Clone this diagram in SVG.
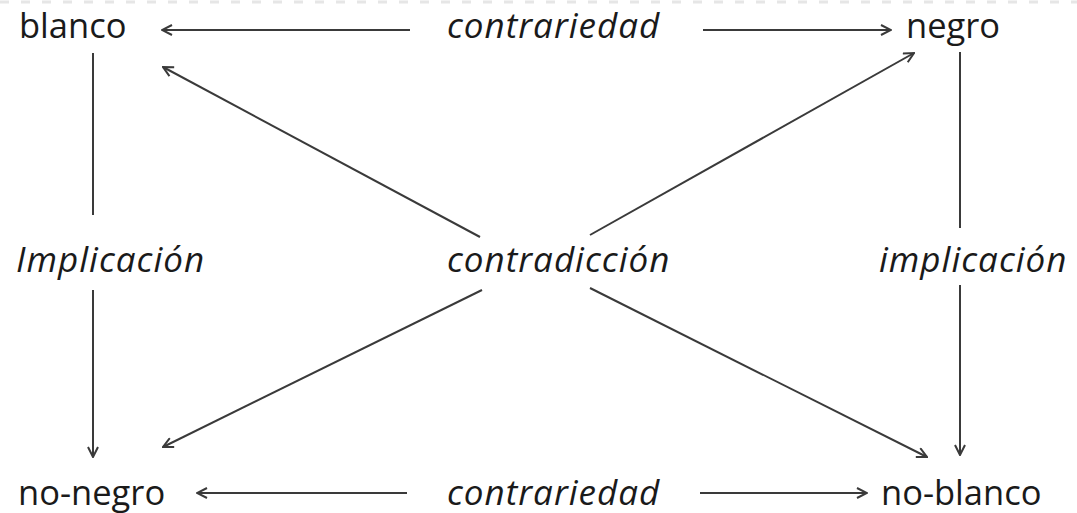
<svg xmlns="http://www.w3.org/2000/svg" width="1077" height="513" viewBox="0 0 1077 513">
<defs>
<marker id="ah" viewBox="0 0 12 12" refX="11" refY="6" markerWidth="12" markerHeight="12" markerUnits="userSpaceOnUse" orient="auto">
<path d="M1,1 L11,6 L1,11" fill="none" stroke="#3a3a3a" stroke-width="2"/>
</marker>
<style>
.lbl{font-family:"Open Sans","Noto Sans",sans-serif;font-size:34.5px;fill:#1a1a1a}
.it{font-style:italic;font-size:35px;letter-spacing:1px}
.c{fill:none;stroke:#3a3a3a;stroke-width:2}
.a{marker-end:url(#ah)}
</style>
</defs>
<rect width="1077" height="513" fill="#ffffff"/>
<line x1="0" y1="2" x2="1077" y2="2" stroke="#e6e6e6" stroke-width="3" stroke-dasharray="9,12"/>
<g id="connectors">
<line class="c a" x1="410" y1="30" x2="162" y2="30"/>
<line class="c a" x1="703" y1="30" x2="891" y2="30"/>
<line class="c a" x1="407" y1="493" x2="197" y2="493"/>
<line class="c a" x1="700" y1="493" x2="867" y2="493"/>
<line class="c" x1="93" y1="53" x2="93" y2="215"/>
<line class="c a" x1="93" y1="290" x2="93" y2="457"/>
<line class="c" x1="960" y1="52" x2="960" y2="228"/>
<line class="c a" x1="960" y1="285" x2="960" y2="455"/>
<line class="c a" x1="480" y1="237" x2="163" y2="67"/>
<line class="c a" x1="590" y1="235" x2="914" y2="53"/>
<line class="c a" x1="482" y1="290" x2="163" y2="447"/>
<line class="c a" x1="590" y1="288" x2="927" y2="457"/>
</g>
<g id="blanco"><text class="lbl" x="19" y="38">blanco</text></g>
<g id="contrariedad-top"><text class="lbl it" x="447" y="38">contrariedad</text></g>
<g id="negro"><text class="lbl" x="906" y="38">negro</text></g>
<g id="implicacion-left"><text class="lbl it" x="16" y="272">Implicación</text></g>
<g id="contradiccion"><text class="lbl it" x="447" y="272">contradicción</text></g>
<g id="implicacion-right"><text class="lbl it" x="879" y="272">implicación</text></g>
<g id="no-negro"><text class="lbl" x="18" y="505">no-negro</text></g>
<g id="contrariedad-bottom"><text class="lbl it" x="447" y="505">contrariedad</text></g>
<g id="no-blanco"><text class="lbl" x="881" y="505">no-blanco</text></g>
</svg>
